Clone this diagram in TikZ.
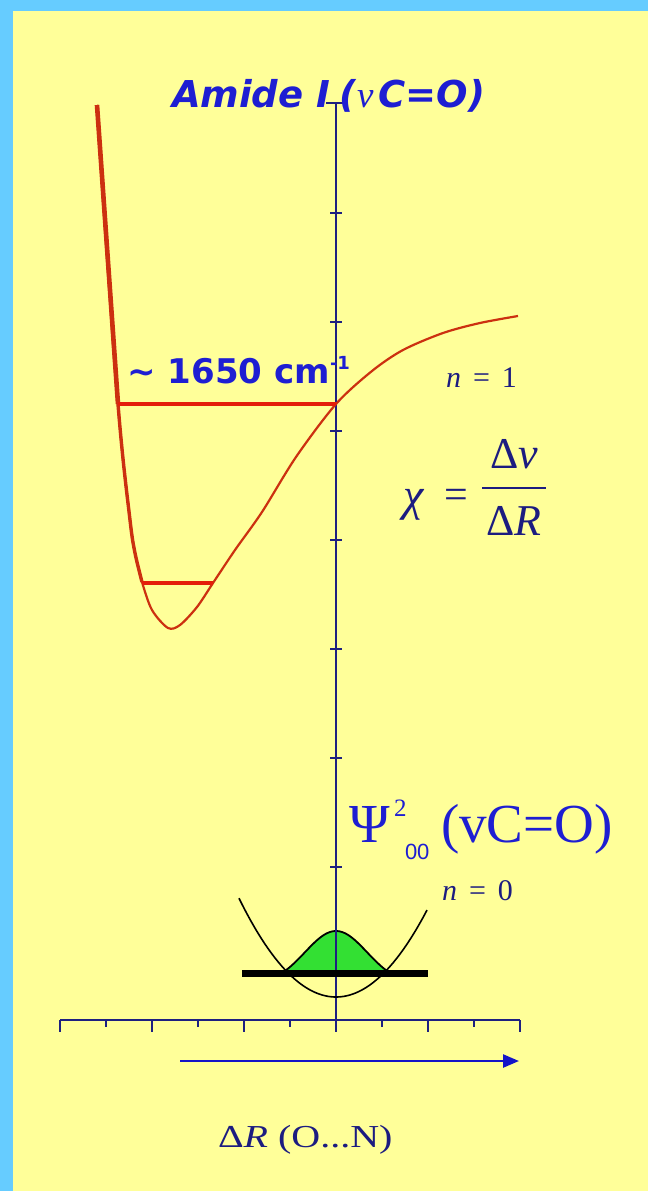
\documentclass[tikz,border=0pt]{standalone}
\usepackage{fontspec}
\setmainfont{Liberation Serif}
\newfontfamily\amfont{DejaVu Sans}
\newfontfamily\sansnum{Liberation Sans}
\usetikzlibrary{arrows.meta}
\definecolor{bg}{HTML}{FFFF99}
\definecolor{framec}{HTML}{66CCFF}
\definecolor{axisc}{HTML}{1E2080}
\definecolor{lvl}{HTML}{E41E0A}
\definecolor{morse}{HTML}{CC3010}
\definecolor{tblue}{HTML}{1E1ED2}
\definecolor{navy}{HTML}{1C1C80}
\definecolor{gfill}{HTML}{33E033}
\definecolor{arrowblue}{HTML}{1414C8}
\tikzset{
  axisline/.style={axisc, line width=2.4pt},
  tickline/.style={axisc, line width=1.8pt},
  levelline/.style={lvl, line width=4pt},
  lbl/.style={inner sep=0pt, outer sep=0pt},
}
\begin{document}
\begin{tikzpicture}[x=1pt,y=-1pt]
\fill[framec] (0,0) rectangle (648,1191);
\fill[bg] (13,11) rectangle (648,1191);
\useasboundingbox (0,0) rectangle (648,1191);

% coordinates
\coordinate (ytop) at (336,103);
\coordinate (ybot) at (336,1032);
\coordinate (xl) at (60,1020);
\coordinate (xr) at (520,1020);
\coordinate (as) at (180,1061);
\coordinate (ae) at (519,1061);
\coordinate (u1) at (118,404);
\coordinate (u2) at (336,404);
\coordinate (l1) at (142,583);
\coordinate (l2) at (213,583);
\coordinate (bl) at (242,973);
\coordinate (br) at (428,973);

% green wavefunction
\pgfmathsetmacro{\gedge}{exp(-(54^2)/(2*31^2))}
\fill[gfill] plot[domain=282:390, samples=60] (\x, {973-42*(exp(-((\x-336)^2)/(2*31^2))-\gedge)/(1-\gedge)}) -- cycle;
\draw[black, line width=1.8pt] plot[domain=282:390, samples=60] (\x, {973-42*(exp(-((\x-336)^2)/(2*31^2))-\gedge)/(1-\gedge)});

% vertical axis
\draw[axisline] (ytop) -- (ybot);
\draw[tickline] (326,103) -- (346,103);
\foreach \yy in {213,322,431,540,649,758,867}
  \draw[tickline] (330,\yy) -- (342,\yy);

% horizontal axis
\draw[axisline] (xl) -- (xr);
\foreach \xx in {60,152,244,336,428,520}
  \draw[tickline] (\xx,1020) -- (\xx,1032);
\foreach \xx in {106,198,290,382,474}
  \draw[tickline] (\xx,1020) -- (\xx,1027);

% arrow
\draw[arrowblue, line width=2.5pt, -{Triangle[length=16pt,width=13pt]}] (as) -- (ae);

% harmonic well and ground level
\draw[black, line width=1.6pt] plot[domain=239:427, samples=80] (\x, {997-0.0105*(\x-336)^2});
\draw[black, line width=7pt] (bl) -- (br);

% Morse curve
\draw[morse, line width=2.2pt] plot[smooth, tension=0.5] coordinates {
 (97,105) (118,404) (130,520) (135,553) (142,582) (152,610) (168,628) (180,625)
 (197,607) (213,583) (235,550) (262,512) (296,457) (336,404) (372,371) (403,350)
 (443,333) (480,323) (518,316)};
\draw[morse, line width=3.4pt] plot[smooth, tension=0.5] coordinates {
 (97,105) (118,404) (130,520) (135,553) (142,582)};
\draw[morse, line width=4.6pt] (97,105) -- (118,404);
\draw[levelline] (u1) -- (u2);
\draw[levelline] (l1) -- (l2);

% texts
\node[lbl, anchor=base west, text=tblue] (amide) at (172,107)
  {\amfont\bfseries\itshape\fontsize{37}{40}\selectfont Amide I\hspace{9pt}(\hspace{1pt}{\rmfamily\mdseries\itshape ν}\hspace{5pt}C=O)};

\node[lbl, anchor=base east, text=tblue] (wn) at (330,383)
  {\amfont\bfseries\fontsize{34}{36}\selectfont \textasciitilde\ 1650 cm};
\node[lbl, anchor=base west, text=tblue] (wnsup) at (330,369)
  {\amfont\bfseries\fontsize{18}{20}\selectfont -1};

\node[lbl, anchor=base west, text=navy] (n1) at (446,387)
  {\fontsize{30}{32}\selectfont\textit{n}\hspace{12pt}=\hspace{12pt}1};

\node[lbl, anchor=base west, text=navy] (chi) at (403,510)
  {\fontsize{46}{48}\selectfont\textit{χ}};
\node[lbl, anchor=base west, text=navy] (eq) at (444,508)
  {\fontsize{42}{44}\selectfont =};
\node[lbl, anchor=base, text=navy] (num) at (514,468)
  {\fontsize{44}{46}\selectfont Δ\textit{ν}};
\node[lbl, anchor=base, text=navy] (den) at (514,535)
  {\fontsize{44}{46}\selectfont Δ\textit{R}};
\draw[navy, line width=1.6pt] (482,488) -- (546,488);

\node[lbl, anchor=base west, text=tblue] (psi) at (349,842)
  {\fontsize{55}{58}\selectfont Ψ};
\node[lbl, anchor=base west, text=tblue] (psisup) at (394,816)
  {\fontsize{25}{28}\selectfont 2};
\node[lbl, anchor=base west, text=tblue] (psisub) at (405,859)
  {\sansnum\fontsize{22}{24}\selectfont 00};
\node[lbl, anchor=base west, text=tblue] (psiarg) at (441,842)
  {\fontsize{55}{58}\selectfont (vC=O)};

\node[lbl, anchor=base west, text=navy] (n0) at (442,900)
  {\fontsize{30}{32}\selectfont\textit{n}\hspace{12pt}=\hspace{12pt}0};

\node[lbl, anchor=base west, text=navy] (dr) at (218,1147)
  {\scalebox{1.25}[1]{\fontsize{32}{34}\selectfont Δ\textit{R} (O...N)}};
\end{tikzpicture}
\end{document}
